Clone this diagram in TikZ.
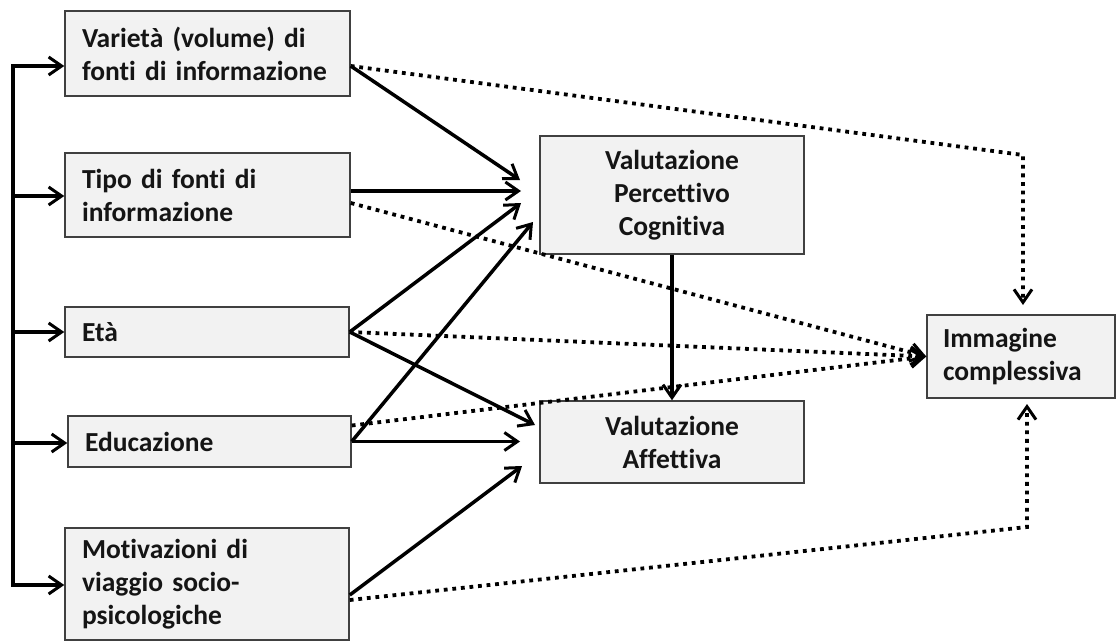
\documentclass[tikz,border=0pt]{standalone}
\usepackage{fontspec}
\setmainfont{Carlito}[Ligatures=NoCommon]
\usetikzlibrary{arrows.meta}

\definecolor{boxfill}{HTML}{F2F2F2}
\definecolor{boxline}{HTML}{404040}
\definecolor{ink}{HTML}{151515}

\tikzset{
  box/.style={draw=boxline, line width=1.5pt, fill=boxfill, inner xsep=17pt,
    inner ysep=0pt, text=ink, anchor=center,
    font=\fontsize{27.5}{33}\selectfont\bfseries},
  lbox/.style={box, align=left},
  cbox/.style={box, align=center, text width=230pt},
  tip/.tip={Straight Barb[length=13pt,width=18pt,line width=3pt]},
  flow/.style={line width=3.5pt, -tip},
  bus/.style={line width=3.5pt, tip-tip},
  link/.style={line width=3.8pt, dash pattern=on 3.8pt off 4.8pt, -tip},
}

\begin{document}
\begin{tikzpicture}[x=1pt, y=-1pt]
\useasboundingbox (0,0) rectangle (1117,642);

% source factors
\node[lbox, minimum width=285pt, minimum height=85pt, text width=251pt] (b1) at (207.5,53.5)
  {Variet\`a (volume) di\\fonti di informazione};
\node[lbox, minimum width=285pt, minimum height=84pt, text width=251pt] (b2) at (207.5,195)
  {Tipo di fonti di\\informazione};
\node[lbox, minimum width=284pt, minimum height=50pt, text width=250pt] (b3) at (207,332)
  {Et\`a};
\node[lbox, minimum width=283pt, minimum height=51pt, text width=249pt] (b4) at (209.5,441.5)
  {Educazione};
\node[lbox, minimum width=284pt, minimum height=112pt, text width=250pt] (b5) at (207,584)
  {Motivazioni di\\viaggio socio-\\psicologiche};

% evaluations and overall image
\node[cbox, minimum width=248pt, minimum height=118pt] (vpc) at (672,195)
  {Valutazione\\Percettivo\\Cognitiva};
\node[cbox, minimum width=248pt, minimum height=82pt] (va) at (672,442)
  {Valutazione\\Affettiva};
\node[lbox, minimum width=188pt, minimum height=83pt, text width=156pt, inner xsep=16pt] (ic) at (1021,356.5)
  {Immagine\\complessiva};

% branching bus on the left
\coordinate (j1) at (13,66);
\coordinate (j2) at (13,196);
\coordinate (j3) at (13,332);
\coordinate (j4) at (13,443);
\coordinate (j5) at (13,585);
\draw[bus] (b1.west |- j1) -- (j1) -- (j5) -- (b5.west |- j5);
\draw[flow] (j2) -- (b2.west |- j2);
\draw[flow] (j3) -- (b3.west |- j3);
\draw[flow] (j4) -- (b4.west |- j4);

% arrow ends next to the evaluation boxes
\coordinate (p1) at (520,180);
\coordinate (p2) at (521,191);
\coordinate (p3) at (521,203);
\coordinate (p4) at (533,222);
\coordinate (q1) at (535,425);
\coordinate (q2) at (520,441.5);
\coordinate (q3) at (522,466);

% start points on the source boxes
\coordinate (s1) at (b1.east |- j1);
\coordinate (s2) at (b2.east |- p2);
\coordinate (s2d) at ([yshift=-8pt]b2.east);
\coordinate (s4d) at ([yshift=16pt]b4.east);
\coordinate (s5) at ([yshift=-11pt]b5.east);
\coordinate (s5d) at ([yshift=-16pt]b5.east);

% direct effects
\draw[flow] (s1) -- (p1);
\draw[flow] (s2) -- (p2);
\draw[flow] (b3.east) -- (p3);
\draw[flow] (b4.east) -- (p4);
\draw[flow] (b3.east) -- (q1);
\draw[flow] (b4.east) -- (q2);
\draw[flow] (s5) -- (q3);
\draw[flow] (vpc) -- (va);

% dotted effects on the overall image
\coordinate (c1) at (1023,155);
\coordinate (t1) at (1023,305);
\coordinate (c2) at (1027,527);
\coordinate (t2) at (1027,404);
\draw[link] (s1) -- (c1) -- (t1);
\draw[link] (s2d) -- (ic.west);
\draw[link] (b3.east) -- (ic.west);
\draw[link] (s4d) -- (ic.west);
\draw[link] (s5d) -- (c2) -- (t2);
\end{tikzpicture}
\end{document}
